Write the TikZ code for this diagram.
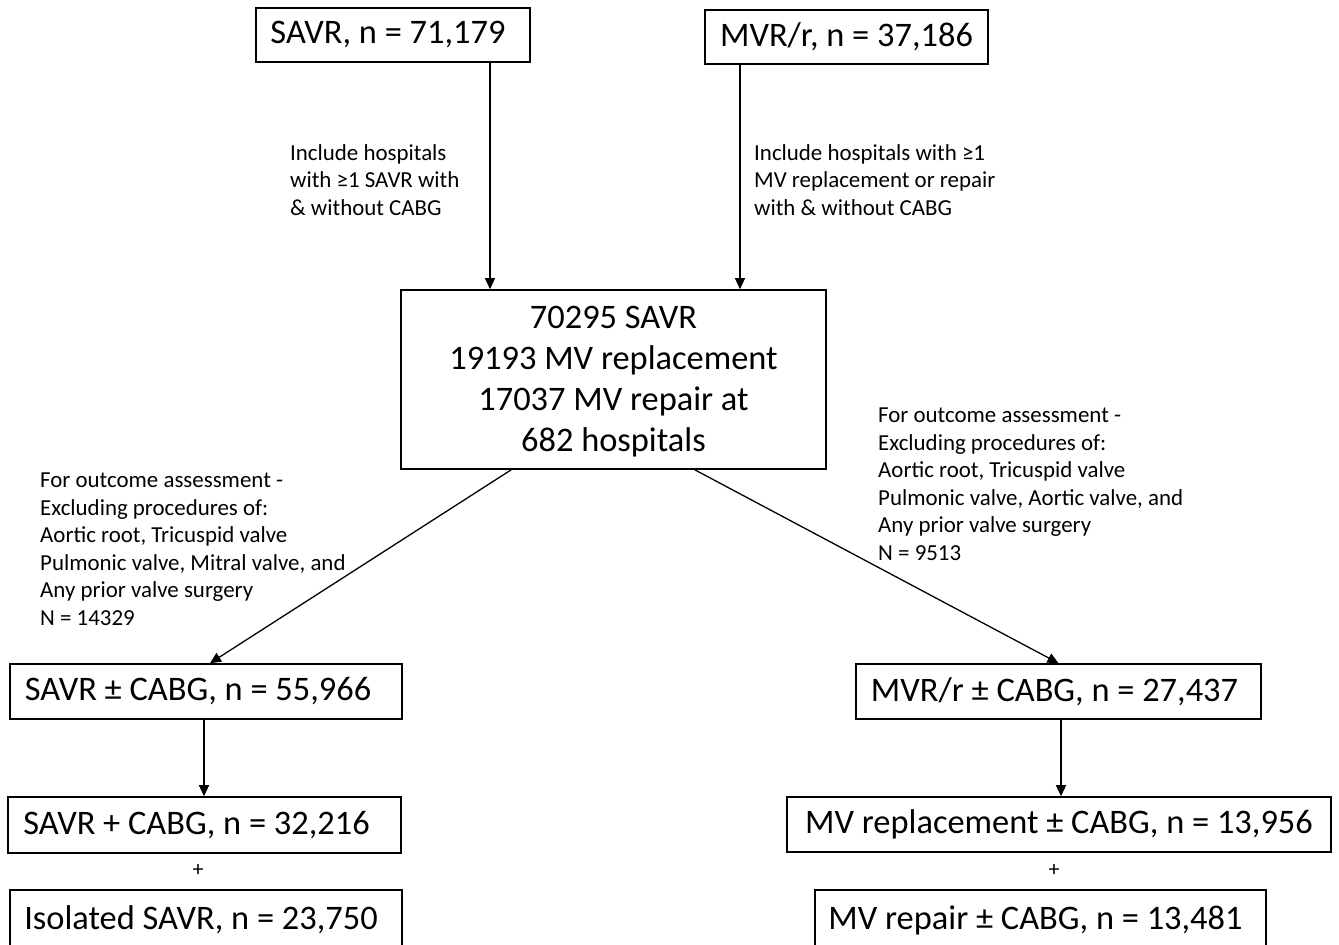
\documentclass[tikz,border=0pt]{standalone}
\usepackage{fontspec}
\setmainfont{Carlito}
\usetikzlibrary{arrows.meta}

\begin{document}
\begin{tikzpicture}[x=1pt, y=-1pt,
	box/.style={draw, line width=1.6pt, inner sep=0pt, align=center, font=\fontsize{34.4}{41}\selectfont},
	note/.style={anchor=north west, inner sep=0pt, align=left, font=\fontsize{22.9}{27.5}\selectfont},
	plus/.style={inner sep=0pt, font=\fontsize{22}{26}\selectfont},
	arr/.style={-{Triangle[length=11pt, width=10pt]}, line width=1.3pt}]
	\useasboundingbox (0,0) rectangle (1339,945);

	\node[box, minimum width=274pt, minimum height=54pt] at (393, 35) (SAVR) {SAVR, n = 71,179\hspace{10pt}};
	\node[box, minimum width=283pt, minimum height=54pt] at (846.5, 37) (MVR) {MVR/r, n = 37,186};
	\node[box, minimum width=425pt, minimum height=179pt, text depth=1pt] at (613.5, 379.5) (ALL)
		{70295 SAVR\\19193 MV replacement\\17037 MV repair at\\682 hospitals};
	\node[box, minimum width=392pt, minimum height=55pt] at (206, 691.5) (SAVRc) {SAVR ± CABG, n = 55,966\hspace{16pt}};
	\node[box, minimum width=405pt, minimum height=55pt] at (1058.5, 691.5) (MVRc) {MVR/r ± CABG, n = 27,437\hspace{8pt}};
	\node[box, minimum width=393pt, minimum height=56pt] at (204.5, 825) (SAVRplus) {SAVR + CABG, n = 32,216\hspace{16pt}};
	\node[box, minimum width=544pt, minimum height=55pt] at (1059, 824.5) (MVrep) {MV replacement ± CABG, n = 13,956};
	\node[box, minimum width=392pt, minimum height=60pt] at (206, 920) (SAVRiso) {Isolated SAVR, n = 23,750\hspace{10pt}};
	\node[box, minimum width=451pt, minimum height=60pt] at (1040.5, 920) (MVrpr) {MV repair ± CABG, n = 13,481\hspace{10pt}};

	\node[plus] at (198, 870) (plusL) {+};
	\node[plus] at (1054, 870) (plusR) {+};

	\node[note] at (290, 144) (incS) {Include hospitals\\with ≥1 SAVR with\\\& without CABG};
	\node[note] at (754, 144) (incM) {Include hospitals with ≥1\\MV replacement or repair\\with \& without CABG};
	\node[note] at (40, 473) (excS) {For outcome assessment -\\Excluding procedures of:\\Aortic root, Tricuspid valve\\Pulmonic valve, Mitral valve, and\\Any prior valve surgery\\N = 14329};
	\node[note] at (878, 408) (excM) {For outcome assessment -\\Excluding procedures of:\\Aortic root, Tricuspid valve\\Pulmonic valve, Aortic valve, and\\Any prior valve surgery\\N = 9513};

	\draw [arr] ([xshift=97pt]SAVR.south) -- ([xshift=97pt]SAVR.south |- ALL.north);
	\draw [arr] ([xshift=-106.5pt]MVR.south) -- ([xshift=-106.5pt]MVR.south |- ALL.north);
	\draw [arr] ([xshift=111pt]ALL.south west) -- ([xshift=4pt]SAVRc.north);
	\draw [arr] ([xshift=-132pt]ALL.south east) -- (MVRc.north);
	\draw [arr] ([xshift=-2pt]SAVRc.south) -- ([xshift=-2pt]SAVRc.south |- SAVRplus.north);
	\draw [arr] ([xshift=2.5pt]MVRc.south) -- ([xshift=2.5pt]MVRc.south |- MVrep.north);
\end{tikzpicture}
\end{document}
